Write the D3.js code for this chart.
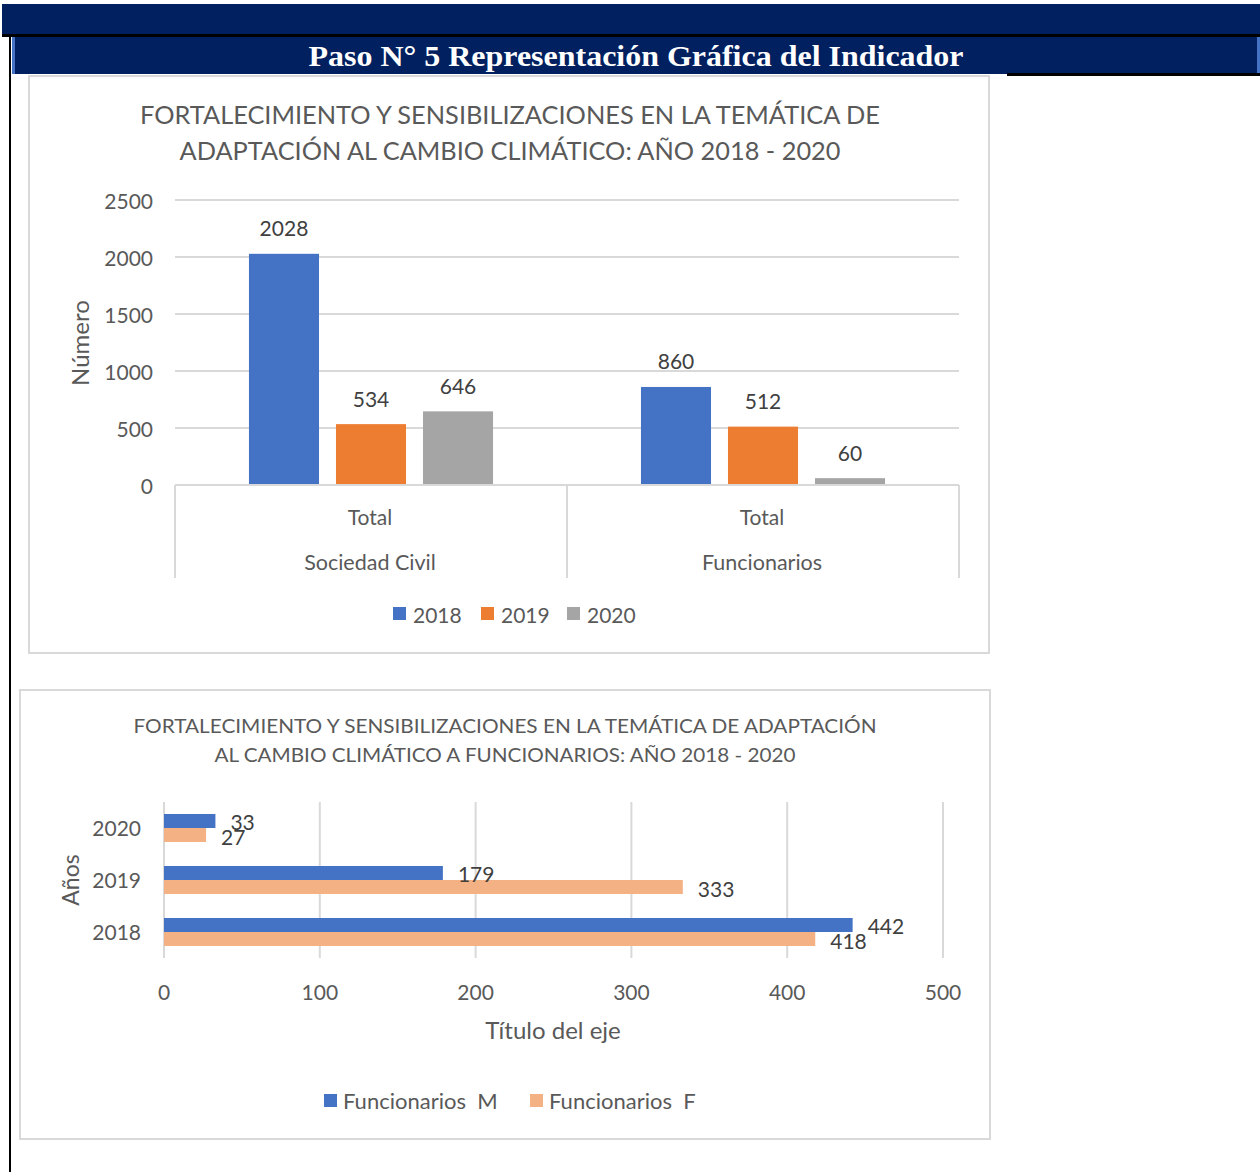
<!DOCTYPE html>
<html>
<head>
<meta charset="utf-8">
<script src="https://cdn.jsdelivr.net/npm/d3@7"></script>
<style>
html,body{margin:0;padding:0;background:#fff;}
svg{display:block;}
text{font-family:Lato,"Open Sans",sans-serif;}
</style>
</head>
<body>
<svg id="chart" width="1260" height="1172"></svg>
<script>
// ---------- DATA ----------
const headerTitle = "Paso N° 5 Representación Gráfica del Indicador";

const chart1Title = ["FORTALECIMIENTO Y SENSIBILIZACIONES  EN LA TEMÁTICA DE", "ADAPTACIÓN AL CAMBIO CLIMÁTICO: AÑO 2018 - 2020"];
const chart1Groups = ["Sociedad Civil", "Funcionarios"];
const chart1SubLabel = "Total";
const chart1Years = ["2018", "2019", "2020"];
const chart1Values2018 = [2028, 860];
const chart1Values2019 = [534, 512];
const chart1Values2020 = [646, 60];
const chart1Ticks = [0, 500, 1000, 1500, 2000, 2500];
const chart1YLabel = "Número";

const chart2Title = ["FORTALECIMIENTO Y SENSIBILIZACIONES  EN LA TEMÁTICA DE ADAPTACIÓN", "AL CAMBIO CLIMÁTICO A FUNCIONARIOS: AÑO 2018 - 2020"];
const chart2Years = ["2020", "2019", "2018"];
const chart2SeriesNames = ["Funcionarios  M", "Funcionarios  F"];
const chart2ValuesM = [33, 179, 442];
const chart2ValuesF = [27, 333, 418];
const chart2Ticks = [0, 100, 200, 300, 400, 500];
const chart2XLabel = "Título del eje";
const chart2YLabel = "Años";

// ---------- STYLE ----------
const navy = "#002060";
const c1Colors = ["#4472C4", "#ED7D31", "#A5A5A5"];
const c2Colors = ["#4472C4", "#F4B183"];
const axisText = "#595959";
const labelText = "#404040";
const gridCol = "#d9d9d9";

const svg = d3.select("#chart");

// ---------- HEADER ----------
svg.append("rect").attr("x", 2).attr("y", 4).attr("width", 1258).attr("height", 31).attr("fill", navy);
svg.append("rect").attr("x", 2).attr("y", 34).attr("width", 1258).attr("height", 3).attr("fill", "#000");
svg.append("rect").attr("x", 12).attr("y", 37).attr("width", 1248).attr("height", 37).attr("fill", navy);
svg.append("rect").attr("x", 12).attr("y", 37).attr("width", 3).attr("height", 37).attr("fill", "#4472C4");
svg.append("rect").attr("x", 1257).attr("y", 37).attr("width", 3).attr("height", 37).attr("fill", "#4472C4");
svg.append("rect").attr("x", 1007).attr("y", 73).attr("width", 253).attr("height", 3).attr("fill", "#000");
svg.append("rect").attr("x", 9).attr("y", 36).attr("width", 2).attr("height", 1136).attr("fill", "#000");
svg.append("text").attr("x", 636).attr("y", 66).attr("text-anchor", "middle")
  .attr("fill", "#fff").attr("font-size", 29).attr("font-weight", "bold")
  .style("font-family", "'Liberation Serif','Times New Roman',serif")
  .attr("textLength", 655).attr("lengthAdjust", "spacingAndGlyphs")
  .text(headerTitle);

// ---------- CHART 1 ----------
const g1 = svg.append("g");
g1.append("rect").attr("x", 29).attr("y", 76).attr("width", 960).attr("height", 577)
  .attr("fill", "#fff").attr("stroke", gridCol).attr("stroke-width", 2);

const t1Len = [740, 661];
chart1Title.forEach((t, i) => {
  g1.append("text").attr("x", 510).attr("y", 114 + i * 36).attr("text-anchor", "middle")
    .attr("dominant-baseline", "central").attr("fill", axisText).attr("font-size", 25)
    .attr("textLength", t1Len[i]).attr("lengthAdjust", "spacingAndGlyphs").text(t);
});

const y1 = d3.scaleLinear().domain([0, 2500]).range([485, 200]);
const x0 = d3.scaleBand().domain(chart1Groups).range([175, 959]);
const x1 = d3.scaleBand().domain(chart1Years).range([0, x0.bandwidth()]).paddingInner(0.195).paddingOuter(0.85);

// gridlines
g1.append("g").selectAll("line").data(chart1Ticks.filter(d => d > 0)).join("line")
  .attr("x1", 175).attr("x2", 959).attr("y1", d => y1(d)).attr("y2", d => y1(d))
  .attr("stroke", gridCol).attr("stroke-width", 2);
// y tick labels
g1.append("g").selectAll("text").data(chart1Ticks).join("text")
  .attr("x", 153).attr("y", d => y1(d)).attr("text-anchor", "end").attr("dominant-baseline", "central")
  .attr("fill", axisText).attr("font-size", 21).text(d => d);
// y label
g1.append("text").attr("transform", "translate(79,343) rotate(-90)").attr("text-anchor", "middle")
  .attr("dominant-baseline", "central").attr("fill", axisText).attr("font-size", 24).text(chart1YLabel);

const series1 = [chart1Values2018, chart1Values2019, chart1Values2020];
const rows1 = [];
chart1Groups.forEach((grp, gi) => {
  chart1Years.forEach((yr, si) => rows1.push({grp, yr, si, v: series1[si][gi]}));
});
g1.append("g").selectAll("rect").data(rows1).join("rect")
  .attr("x", d => x0(d.grp) + x1(d.yr)).attr("width", x1.bandwidth())
  .attr("y", d => y1(d.v)).attr("height", d => y1(0) - y1(d.v))
  .attr("fill", d => c1Colors[d.si]);
g1.append("g").selectAll("text").data(rows1).join("text")
  .attr("x", d => x0(d.grp) + x1(d.yr) + x1.bandwidth() / 2).attr("y", d => y1(d.v) - 26)
  .attr("text-anchor", "middle").attr("dominant-baseline", "central")
  .attr("fill", labelText).attr("font-size", 21).text(d => d.v);

// category axis
g1.append("line").attr("x1", 175).attr("x2", 959).attr("y1", y1(0)).attr("y2", y1(0)).attr("stroke", gridCol).attr("stroke-width", 2);
const seps = [175, x0(chart1Groups[1]), 959];
g1.append("g").selectAll("line").data(seps).join("line")
  .attr("x1", d => d).attr("x2", d => d).attr("y1", y1(0)).attr("y2", 578)
  .attr("stroke", gridCol).attr("stroke-width", 2);
chart1Groups.forEach(grp => {
  const cx = x0(grp) + x0.bandwidth() / 2;
  g1.append("text").attr("x", cx - 1).attr("y", 516).attr("text-anchor", "middle").attr("dominant-baseline", "central")
    .attr("fill", axisText).attr("font-size", 21).text(chart1SubLabel);
  g1.append("text").attr("x", cx - 1).attr("y", 562).attr("text-anchor", "middle").attr("dominant-baseline", "central")
    .attr("fill", axisText).attr("font-size", 21.5).text(grp);
});
// legend
const leg1X = [393, 481, 567];
chart1Years.forEach((yr, i) => {
  g1.append("rect").attr("x", leg1X[i]).attr("y", 607).attr("width", 13).attr("height", 13).attr("fill", c1Colors[i]);
  g1.append("text").attr("x", leg1X[i] + 20).attr("y", 614).attr("dominant-baseline", "central")
    .attr("fill", axisText).attr("font-size", 21).text(yr);
});

// ---------- CHART 2 ----------
const g2 = svg.append("g");
g2.append("rect").attr("x", 20).attr("y", 690).attr("width", 970).attr("height", 449)
  .attr("fill", "#fff").attr("stroke", gridCol).attr("stroke-width", 2);

const t2Len = [743, 581];
chart2Title.forEach((t, i) => {
  g2.append("text").attr("x", 505).attr("y", 725 + i * 29).attr("text-anchor", "middle")
    .attr("dominant-baseline", "central").attr("fill", axisText).attr("font-size", 20)
    .attr("textLength", t2Len[i]).attr("lengthAdjust", "spacingAndGlyphs").text(t);
});

const x2 = d3.scaleLinear().domain([0, 500]).range([164, 943]);
const y20 = d3.scaleBand().domain(chart2Years).range([802, 958]);
const y21 = d3.scaleBand().domain(["M", "F"]).range([0, y20.bandwidth()]).paddingOuter(0.857);

g2.append("g").selectAll("line").data(chart2Ticks).join("line")
  .attr("x1", d => x2(d)).attr("x2", d => x2(d)).attr("y1", 802).attr("y2", 958)
  .attr("stroke", gridCol).attr("stroke-width", 2);
g2.append("g").selectAll("text").data(chart2Ticks).join("text")
  .attr("x", d => x2(d)).attr("y", 991).attr("text-anchor", "middle").attr("dominant-baseline", "central")
  .attr("fill", axisText).attr("font-size", 21).text(d => d);
g2.append("g").selectAll("text").data(chart2Years).join("text")
  .attr("x", 141).attr("y", d => y20(d) + y20.bandwidth() / 2 - 1).attr("text-anchor", "end")
  .attr("dominant-baseline", "central").attr("fill", axisText).attr("font-size", 21).text(d => d);
g2.append("text").attr("x", 553).attr("y", 1029).attr("text-anchor", "middle").attr("dominant-baseline", "central")
  .attr("fill", axisText).attr("font-size", 24).text(chart2XLabel);
g2.append("text").attr("transform", "translate(70,880) rotate(-90)").attr("text-anchor", "middle")
  .attr("dominant-baseline", "central").attr("fill", axisText).attr("font-size", 23).text(chart2YLabel);

const rows2 = [];
chart2Years.forEach((yr, i) => {
  rows2.push({yr, s: "M", si: 0, v: chart2ValuesM[i]});
  rows2.push({yr, s: "F", si: 1, v: chart2ValuesF[i]});
});
g2.append("g").selectAll("rect").data(rows2).join("rect")
  .attr("x", x2(0)).attr("width", d => x2(d.v) - x2(0))
  .attr("y", d => y20(d.yr) + y21(d.s)).attr("height", y21.bandwidth())
  .attr("fill", d => c2Colors[d.si]);
g2.append("g").selectAll("text").data(rows2).join("text")
  .attr("x", d => x2(d.v) + 15).attr("y", d => y20(d.yr) + y21(d.s) + y21.bandwidth() / 2 + 1)
  .attr("dominant-baseline", "central").attr("fill", labelText).attr("font-size", 21).text(d => d.v);

const leg2X = [324, 530];
chart2SeriesNames.forEach((n, i) => {
  g2.append("rect").attr("x", leg2X[i]).attr("y", 1094).attr("width", 13).attr("height", 13).attr("fill", c2Colors[i]);
  g2.append("text").attr("x", leg2X[i] + 19).attr("y", 1100).attr("dominant-baseline", "central")
    .attr("fill", axisText).attr("font-size", 22).attr("xml:space", "preserve").style("white-space", "pre").text(n);
});
</script>
</body>
</html>
